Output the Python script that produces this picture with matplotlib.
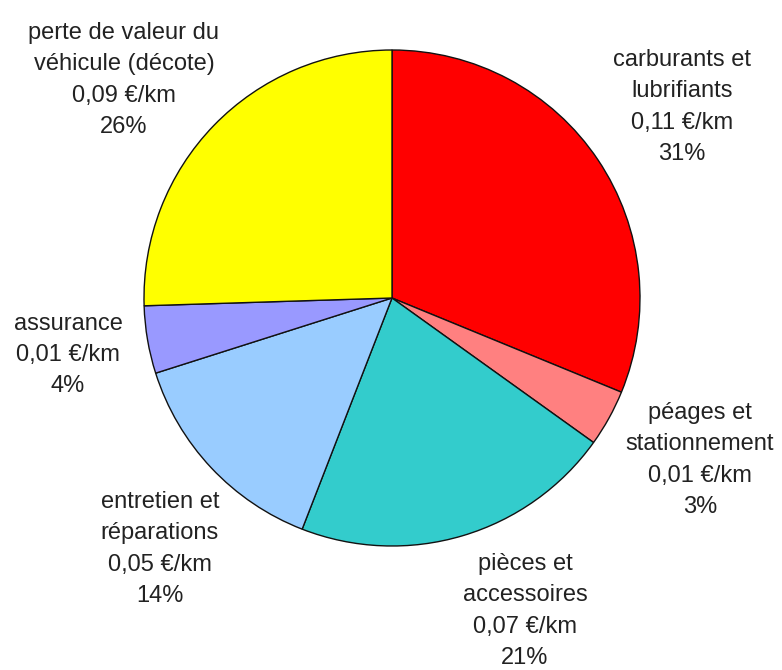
import matplotlib
matplotlib.use("Agg")
import matplotlib.pyplot as plt

categories = ["carburants et\nlubrifiants", "péages et\nstationnement", "pièces et\naccessoires",
              "entretien et\nréparations", "assurance", "perte de valeur du\nvéhicule (décote)"]
shares = [31.2, 3.7, 21.0, 14.2, 4.4, 25.5]
cost_labels = ["0,11 €/km", "0,01 €/km", "0,07 €/km", "0,05 €/km", "0,01 €/km", "0,09 €/km"]
pct_labels = ["31%", "3%", "21%", "14%", "4%", "26%"]
colors = ["#FF0000", "#FF8080", "#33CCCC", "#99CCFF", "#9999FF", "#FFFF00"]

# label centres in pixels (x, y from top)
label_px = [(682, 107), (700, 460), (525, 611), (160, 549), (68, 355), (124, 80)]

W, H = 782, 670
cx, cy, R = 392, 298, 248

plt.rcParams['font.family'] = ['Liberation Sans', 'DejaVu Sans']
fig = plt.figure(figsize=(W / 100, H / 100), dpi=100)
ax = fig.add_axes([0, 0, 1, 1])
ax.pie(shares, colors=colors, startangle=90, counterclock=False, radius=1,
       wedgeprops=dict(edgecolor="#111111", linewidth=1.0))
ax.set_xlim(-cx / R, (W - cx) / R)
ax.set_ylim(-(H - cy) / R, cy / R)
ax.set_aspect('equal')
ax.axis('off')

for cat, cost, pct, (px, py) in zip(categories, cost_labels, pct_labels, label_px):
    ax.text((px - cx) / R, (cy - py) / R, f"{cat}\n{cost}\n{pct}", ha='center', va='center',
            fontsize=17, color='#222222', linespacing=1.55)

fig.savefig("out.png", dpi=100, facecolor='white')
